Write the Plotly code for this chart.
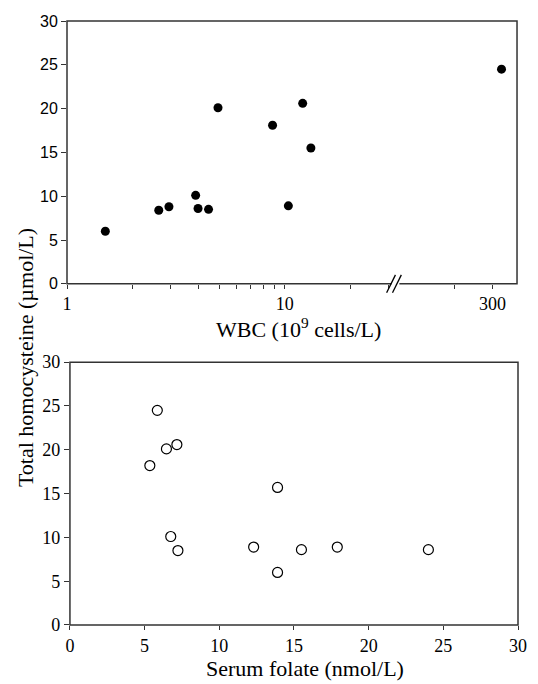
import numpy as np
import plotly.graph_objects as go

# ---- data ----
wbc = [1.50, 2.64, 2.94, 3.90, 4.00, 4.47, 4.94, 8.8, 12.1, 13.2, 10.4, 330]
hcy_wbc = [6.0, 8.4, 8.8, 10.1, 8.6, 8.5, 20.1, 18.1, 20.6, 15.5, 8.9, 24.5]

folate = [5.85, 5.35, 6.46, 7.16, 6.75, 7.23, 12.3, 13.9, 13.9, 15.5, 17.9, 24.0]
hcy_fol = [24.5, 18.2, 20.1, 20.6, 10.1, 8.5, 8.9, 15.7, 6.0, 8.6, 8.9, 8.6]

y_ticks = [0, 5, 10, 15, 20, 25, 30]
fol_ticks = [0, 5, 10, 15, 20, 25, 30]
wbc_major_left = [1, 10]
wbc_minor_left = [2, 3, 4, 5, 6, 7, 8, 9, 20, 30]
wbc_major_right = [300]
wbc_minor_right = [200]

W, H = 538, 684
ML, MR, MT, MB = 67, 11, 16, 59
PW = W - ML - MR
PH = H - MT - MB

def px(xp):
    return (xp - ML) / PW

def py(yp):
    return (H - MB - yp) / PH

brk = px(402)
top_dom = [py(281), 1.0]
bot_dom = [0.0, py(360)]

wbc_a = np.array(wbc)
hcy_a = np.array(hcy_wbc)
left_mask = wbc_a < 40
right_mask = ~left_mask

serif = "Liberation Serif"
axcol = "#333333"

fig = go.Figure()
fig.add_trace(go.Scatter(x=wbc_a[left_mask], y=hcy_a[left_mask], mode="markers",
                         marker=dict(color="black", size=9), xaxis="x", yaxis="y",
                         showlegend=False))
fig.add_trace(go.Scatter(x=wbc_a[right_mask], y=hcy_a[right_mask], mode="markers",
                         marker=dict(color="black", size=9), xaxis="x3", yaxis="y",
                         showlegend=False))
fig.add_trace(go.Scatter(x=folate, y=hcy_fol, mode="markers",
                         marker=dict(color="white", size=10, line=dict(color="black", width=1.2)),
                         xaxis="x2", yaxis="y2", showlegend=False))

tickfont = dict(family=serif, size=18, color="black")
base = dict(showgrid=False, zeroline=False, ticks="outside", tickwidth=1,
            tickcolor=axcol, showline=False)

left_range = [0, (402 - 67) / 222]
right_range = [np.log10(300) - (501 - 402) / 222, np.log10(300) + (526 - 501) / 222]

fig.update_layout(
    width=W, height=H, margin=dict(l=ML, r=MR, t=MT, b=MB),
    paper_bgcolor="white", plot_bgcolor="white",
    xaxis=dict(domain=[0, brk], type="log", range=left_range, anchor="y",
               tickmode="array", tickvals=wbc_major_left, ticktext=[str(v) for v in wbc_major_left],
               ticklen=4, tickfont=tickfont,
               minor=dict(tickmode="array", tickvals=wbc_minor_left, ticks="outside",
                          ticklen=4, tickcolor=axcol, showgrid=False), **base),
    xaxis3=dict(domain=[brk, px(526)], type="log", range=right_range, anchor="y",
                tickmode="array", tickvals=wbc_major_right, ticktext=[str(v) for v in wbc_major_right],
                ticklen=4, tickfont=tickfont,
                minor=dict(tickmode="array", tickvals=wbc_minor_right, ticks="outside",
                           ticklen=4, tickcolor=axcol, showgrid=False), **base),
    yaxis=dict(domain=top_dom, range=[0, 30], anchor="x", tickmode="array",
               tickvals=y_ticks, ticklen=5,
               tickfont=dict(family="Liberation Sans", size=16, color="black"), **base),
    xaxis2=dict(domain=[px(70), 1.0], range=[0, 30], anchor="y2", tickmode="array",
                tickvals=fol_ticks, ticklen=4, tickfont=tickfont, **base),
    yaxis2=dict(domain=bot_dom, range=[0, 30], anchor="x2", tickmode="array",
                tickvals=y_ticks, ticklen=5, tickfont=tickfont, **base),
)

shapes = [
    dict(type="rect", xref="paper", yref="paper", x0=0, x1=px(526), y0=top_dom[0], y1=top_dom[1],
         line=dict(color=axcol, width=1.5), fillcolor="rgba(0,0,0,0)", layer="above"),
    dict(type="rect", xref="paper", yref="paper", x0=px(70), x1=1.0, y0=bot_dom[0], y1=bot_dom[1],
         line=dict(color=axcol, width=1.5), fillcolor="rgba(0,0,0,0)", layer="above"),
    # axis break
    dict(type="rect", xref="paper", yref="paper", x0=px(398), x1=px(406), y0=py(284), y1=py(278),
         line=dict(width=0), fillcolor="white", layer="above"),
    dict(type="line", xref="paper", yref="paper", x0=px(393), x1=px(402), y0=py(290), y1=py(272),
         line=dict(color="black", width=1.3), layer="above"),
    dict(type="line", xref="paper", yref="paper", x0=px(399), x1=px(408), y0=py(290), y1=py(272),
         line=dict(color="black", width=1.3), layer="above"),
]
fig.update_layout(shapes=shapes)

titlefont = dict(family=serif, size=22, color="black")
fig.add_annotation(text="Total homocysteine (µmol/L)", textangle=-90, xref="paper", yref="paper",
                   x=px(24), y=py(355), xanchor="center", yanchor="middle", showarrow=False,
                   font=titlefont)
fig.add_annotation(text="WBC (10<sup>9</sup> cells/L)", xref="paper", yref="paper",
                   x=px(303), y=py(326), xanchor="center", yanchor="middle", showarrow=False,
                   font=titlefont)
fig.add_annotation(text="Serum folate (nmol/L)", xref="paper", yref="paper",
                   x=px(310), y=py(669), xanchor="center", yanchor="middle", showarrow=False,
                   font=titlefont)

fig.write_html("out.html")
